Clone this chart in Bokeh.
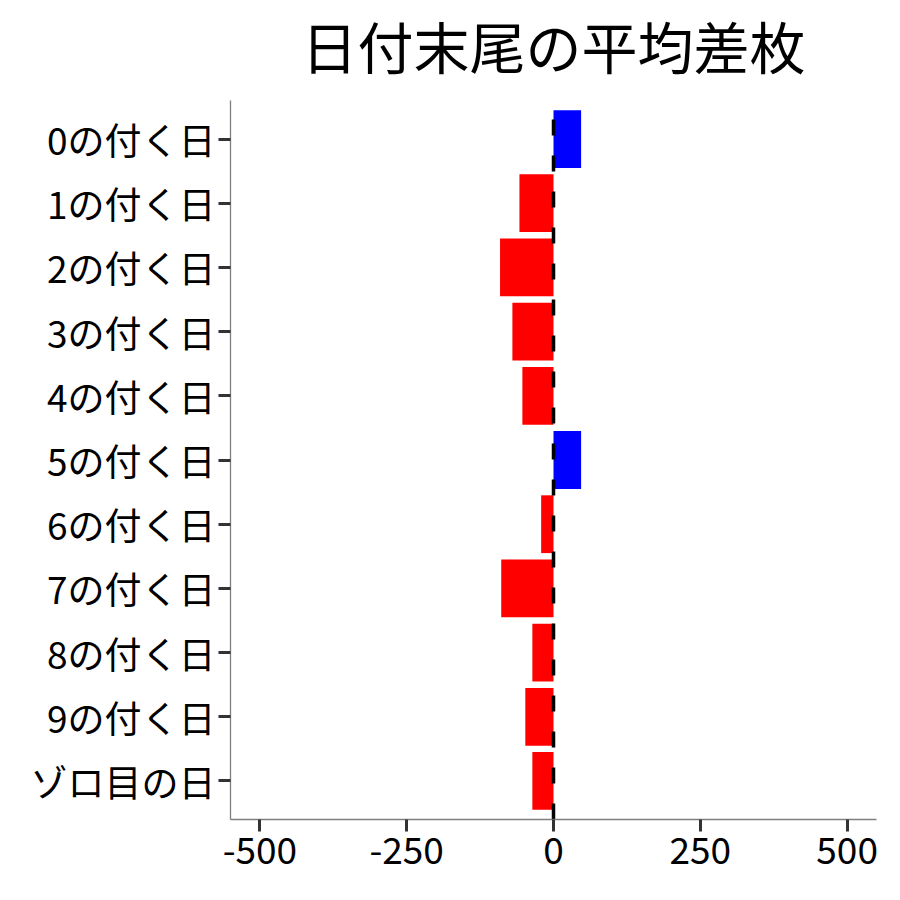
from bokeh.plotting import figure
from bokeh.models import Range1d, FixedTicker, ColumnDataSource, LinearAxis
from bokeh.embed import file_html
from bokeh.resources import INLINE

title_text = "日付末尾の平均差枚"
categories = ["0の付く日", "1の付く日", "2の付く日", "3の付く日", "4の付く日",
              "5の付く日", "6の付く日", "7の付く日", "8の付く日", "9の付く日", "ゾロ目の日"]
values = [47, -58, -91, -70, -53, 47, -21, -89, -36, -48, -36]
x_ticks = [-500, -250, 0, 250, 500]
x_tick_labels = ["-500", "-250", "0", "250", "500"]
x_limits = (-550, 550)

n = len(categories)
ypos = [n - i for i in range(n)]
colors = ["#0000FF" if v > 0 else "#FF0000" for v in values]
y_lo, y_hi = 0.4, n + 0.6

FONT = "Noto Sans CJK JP"

p = figure(frame_width=646, frame_height=719,
           x_range=Range1d(*x_limits), y_range=Range1d(y_lo, y_hi),
           output_backend="svg", toolbar_location=None,
           min_border_left=230, min_border_right=8,
           min_border_top=100, min_border_bottom=66)

bottom_axis = p.below[0]
left_axis = p.left[0]

src = ColumnDataSource(dict(y=ypos, v=values, c=colors))
p.hbar(y="y", left=0, right="v", height=0.9, fill_color="c", line_color=None, source=src)

p.segment(x0=[0], y0=[y_lo], x1=[0], y1=[y_hi], line_color="black",
          line_width=3.5, line_dash="16 20", line_cap="butt")

# title drawn as the label of an empty axis above the frame
top_axis = LinearAxis(ticker=FixedTicker(ticks=[]), axis_label=title_text,
                      axis_line_color=None, major_tick_line_color=None,
                      minor_tick_line_color=None, major_tick_out=0, major_tick_in=0,
                      major_label_standoff=0, major_label_text_font_size="0px")
top_axis.axis_label_text_font = FONT
top_axis.axis_label_text_font_size = "56px"
top_axis.axis_label_text_font_style = "normal"
top_axis.axis_label_text_color = "black"
top_axis.axis_label_standoff = 16
p.add_layout(top_axis, "above")

p.xgrid.visible = False
p.ygrid.visible = False
p.outline_line_color = None
p.background_fill_color = "white"
p.border_fill_color = "white"

for ax in (bottom_axis, left_axis):
    ax.axis_line_color = "#7f7f7f"
    ax.axis_line_width = 1.3
    ax.major_tick_line_color = "#333333"
    ax.major_tick_line_width = 3
    ax.major_tick_out = 12
    ax.major_tick_in = 0
    ax.minor_tick_line_color = None
    ax.major_label_text_font = FONT
    ax.major_label_text_font_size = "37px"
    ax.major_label_text_color = "black"

bottom_axis.ticker = FixedTicker(ticks=x_ticks)
bottom_axis.major_label_overrides = {t: l for t, l in zip(x_ticks, x_tick_labels)}
bottom_axis.major_label_standoff = 5

left_axis.ticker = FixedTicker(ticks=ypos)
left_axis.major_label_overrides = {y: c for y, c in zip(ypos, categories)}
left_axis.major_label_standoff = 3

open("out.html", "w").write(file_html(p, INLINE))
